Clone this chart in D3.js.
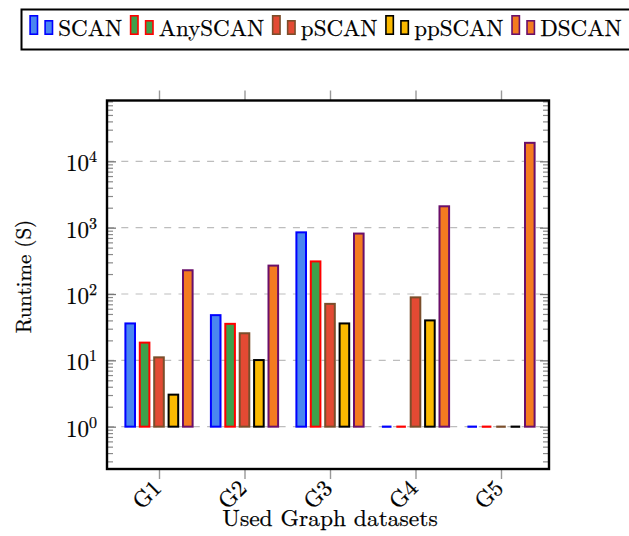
<!DOCTYPE html>
<html>
<head>
<meta charset="utf-8">
<script src="https://cdn.jsdelivr.net/npm/d3@7"></script>
<style>
  html, body { margin: 0; padding: 0; background: #fff; }
  svg { display: block; }
</style>
</head>
<body>
<svg id="chart" width="629" height="536"></svg>
<script>
// ---- data ----
const categories = ["G1", "G2", "G3", "G4", "G5"];
const seriesNames = ["SCAN", "AnySCAN", "pSCAN", "ppSCAN", "DSCAN"];
const scanValues    = [36, 48, 850, 1, 1];
const anyscanValues = [18.5, 35.5, 310, 1, 1];
const pscanValues   = [11.1, 25.6, 71, 89, 1];
const ppscanValues  = [3.04, 10.1, 36, 40, 1];
const dscanValues   = [228, 268, 815, 2100, 19000];
const yTickExponents = [0, 1, 2, 3, 4];
const xLabel = "Used Graph datasets";
const yLabel = "Runtime (S)";

// ---- styles ----
const FONT = "'Latin Modern Roman', 'Liberation Serif', 'DejaVu Serif', serif";
const fills   = ["#4a86f0", "#3ea04b", "#e34a33", "#fbb900", "#f47b20"];
const strokes = ["#0000ff", "#ff0000", "#7a4e2b", "#000000", "#6a0f6a"];
const seriesValues = [scanValues, anyscanValues, pscanValues, ppscanValues, dscanValues];

const svg = d3.select("#chart");
const frame = { left: 107, right: 549, top: 100.5, bottom: 469 };

const x = d3.scalePoint().domain(categories)
  .range([frame.left + 52, frame.right - 48]);
const y = d3.scaleLog().domain([Math.pow(10, -0.638), Math.pow(10, 4.917)])
  .range([frame.bottom, frame.top]);
const offset = d3.scalePoint().domain(seriesNames).range([-28.8, 28.8]);
const barW = 9.6;

function txt(sel) {
  return sel.append("text").attr("font-family", FONT).attr("fill", "#000")
    .attr("stroke", "#000").attr("stroke-width", 0.25);
}

// gridlines
const grid = svg.append("g");
yTickExponents.forEach(e => {
  grid.append("line")
    .attr("x1", frame.left).attr("x2", frame.right)
    .attr("y1", y(Math.pow(10, e))).attr("y2", y(Math.pow(10, e)))
    .attr("stroke", "#bdbdbd").attr("stroke-width", 1.2)
    .attr("stroke-dasharray", "7,7.3");
});

// y axes (left + right) with inward ticks
const [d0, d1] = y.domain();
const minorVals = [];
for (let e = -1; e <= 5; e++) for (let m = 2; m <= 9; m++) {
  const v = m * Math.pow(10, e);
  if (v > d0 && v < d1) minorVals.push(v);
}
const majorVals = yTickExponents.map(e => Math.pow(10, e));
[[frame.left, d3.axisRight], [frame.right, d3.axisLeft]].forEach(([px, mk]) => {
  svg.append("g").attr("transform", `translate(${px},0)`)
    .call(mk(y).tickValues(minorVals).tickSize(6).tickFormat(""))
    .call(g => g.select(".domain").remove())
    .call(g => g.selectAll(".tick line").attr("stroke", "#8a8a8a").attr("stroke-width", 1.2));
  svg.append("g").attr("transform", `translate(${px},0)`)
    .call(mk(y).tickValues(majorVals).tickSize(9).tickFormat(""))
    .call(g => g.select(".domain").remove())
    .call(g => g.selectAll(".tick line").attr("stroke", "#777").attr("stroke-width", 1.3));
});

// y tick labels 10^e
yTickExponents.forEach(e => {
  const t = txt(svg)
    .attr("x", 97).attr("y", y(Math.pow(10, e)) + 10)
    .attr("text-anchor", "end").attr("font-size", 23);
  t.append("tspan").text("10");
  t.append("tspan").attr("dy", -9).attr("font-size", 16).text(String(e));
});

// x axes ticks top + bottom (outward)
svg.append("g").attr("transform", `translate(0,${frame.bottom})`)
  .call(d3.axisBottom(x).tickSize(10).tickFormat(""))
  .call(g => g.select(".domain").remove())
  .call(g => g.selectAll(".tick line").attr("stroke", "#999").attr("stroke-width", 1.4));
svg.append("g").attr("transform", `translate(0,${frame.top})`)
  .call(d3.axisTop(x).tickSize(10).tickFormat(""))
  .call(g => g.select(".domain").remove())
  .call(g => g.selectAll(".tick line").attr("stroke", "#999").attr("stroke-width", 1.4));

// x tick labels rotated
categories.forEach(c => {
  txt(svg)
    .attr("transform", `translate(${x(c) - 2},${frame.bottom + 15}) rotate(-45)`)
    .attr("text-anchor", "end").attr("dy", "0.35em")
    .attr("font-size", 23).text(c);
});

// bars
const bars = svg.append("g");
seriesNames.forEach((s, si) => {
  seriesValues[si].forEach((v, ci) => {
    const cx = x(categories[ci]) + offset(s);
    const y0 = y(1), y1 = y(v);
    if (Math.abs(y0 - y1) < 0.5) {
      bars.append("line")
        .attr("x1", cx - barW / 2).attr("x2", cx + barW / 2)
        .attr("y1", y0).attr("y2", y0)
        .attr("stroke", strokes[si]).attr("stroke-width", 2.2);
    } else {
      bars.append("rect")
        .attr("x", cx - barW / 2).attr("width", barW)
        .attr("y", Math.min(y0, y1)).attr("height", Math.abs(y0 - y1))
        .attr("fill", fills[si]).attr("stroke", strokes[si]).attr("stroke-width", 2);
    }
  });
});

// frame
svg.append("rect")
  .attr("x", frame.left).attr("y", frame.top)
  .attr("width", frame.right - frame.left).attr("height", frame.bottom - frame.top)
  .attr("fill", "none").attr("stroke", "#000").attr("stroke-width", 2.4);

// axis labels
txt(svg).attr("x", 330).attr("y", 526)
  .attr("text-anchor", "middle").attr("font-size", 23.5).text(xLabel);
txt(svg)
  .attr("transform", `translate(31,276.5) rotate(-90)`)
  .attr("text-anchor", "middle").attr("font-size", 21).text(yLabel);

// legend
const leg = svg.append("g");
leg.append("rect").attr("x", 21.5).attr("y", 9.5).attr("width", 640).attr("height", 40)
  .attr("fill", "#fff").attr("stroke", "#000").attr("stroke-width", 2);
let lx = 29.3;
seriesNames.forEach((s, si) => {
  leg.append("rect").attr("x", lx + 0.8).attr("y", 15.8).attr("width", 7.4).attr("height", 18.4)
    .attr("fill", fills[si]).attr("stroke", strokes[si]).attr("stroke-width", 1.6);
  leg.append("rect").attr("x", lx + 15.8).attr("y", 20.8).attr("width", 7.4).attr("height", 13.4)
    .attr("fill", fills[si]).attr("stroke", strokes[si]).attr("stroke-width", 1.6);
  const t = txt(leg).attr("x", lx + 29).attr("y", 36)
    .attr("font-size", 23).text(s);
  lx = lx + 29 + t.node().getComputedTextLength() + 7.6;
});
</script>
</body>
</html>
